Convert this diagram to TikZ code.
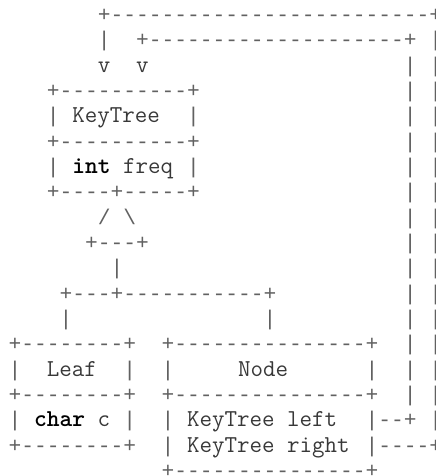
\documentclass[tikz,border=0pt]{standalone}
\usepackage{fontspec}
\setmonofont{Liberation Mono}
\begin{document}
\begin{tikzpicture}[
  box/.style={anchor=base west, inner sep=0pt, outer sep=0pt, text=black!62,
    font=\ttfamily\fontsize{15.94pt}{19pt}\selectfont},
  word/.style={anchor=base west, inner sep=0pt, outer sep=0pt, text=black!78,
    font=\fontfamily{lmtt}\fontsize{18.214pt}{19pt}\selectfont},
]
\useasboundingbox (0,0) rectangle (327pt,-357pt);
\begin{scope}[x=9.5625pt, y=-19pt, shift={(6.469pt,2.875pt)}]
% row 1
\node[box] (r1a) at (7,1) {+-------------------------+};
% row 2
\node[box] (r2a) at (7,2) {|};
\node[box] (r2b) at (10,2) {+--------------------+};
\node[box] (r2c) at (33,2) {|};
% row 3
\node[word] (r3a) at (7,3) {v};
\node[word] (r3b) at (10,3) {v};
% right verticals
\foreach \r in {3,...,16} {
  \node[box] (vl\r) at (31,\r) {|};
}
\foreach \r in {3,...,17} {
  \node[box] (vr\r) at (33,\r) {|};
}
% KeyTree box
\node[box] (kt1) at (3,4) {+----------+};
\node[box] (kt2a) at (3,5) {|};
\node[word] (ktname) at (5,5) {KeyTree};
\node[box] (kt2b) at (14,5) {|};
\node[box] (kt3) at (3,6) {+----------+};
\node[box] (kt4a) at (3,7) {|};
\node[word] (ktfield) at (5,7) {\textbf{\color{black}int} freq};
\node[box] (kt4b) at (14,7) {|};
\node[box] (kt5) at (3,8) {+----+-----+};
% inheritance
\node[box] (inh1) at (7,9) {/};
\node[box] (inh2) at (9,9) {\textbackslash};
\node[box] (inh3) at (6,10) {+---+};
\node[box] (inh4) at (8,11) {|};
\node[box] (inh5) at (4,12) {+---+-----------+};
\node[box] (inh6) at (4,13) {|};
\node[box] (inh7) at (20,13) {|};
% Leaf box
\node[box] (lf1) at (0,14) {+--------+};
\node[box] (lf2a) at (0,15) {|};
\node[word] (lfname) at (3,15) {Leaf};
\node[box] (lf2b) at (9,15) {|};
\node[box] (lf3) at (0,16) {+--------+};
\node[box] (lf4a) at (0,17) {|};
\node[word] (lffield) at (2,17) {\textbf{\color{black}char} c};
\node[box] (lf4b) at (9,17) {|};
\node[box] (lf5) at (0,18) {+--------+};
% Node box
\node[box] (nd1) at (12,14) {+---------------+};
\node[box] (nd2a) at (12,15) {|};
\node[word] (ndname) at (18,15) {Node};
\node[box] (nd2b) at (28,15) {|};
\node[box] (nd3) at (12,16) {+---------------+};
\node[box] (nd4a) at (12,17) {|};
\node[word] (ndleft) at (14,17) {KeyTree left};
\node[box] (nd4b) at (28,17) {|--+};
\node[box] (nd5a) at (12,18) {|};
\node[word] (ndright) at (14,18) {KeyTree right};
\node[box] (nd5b) at (28,18) {|----+};
\node[box] (nd6) at (12,19) {+---------------+};
\end{scope}
\end{tikzpicture}
\end{document}
